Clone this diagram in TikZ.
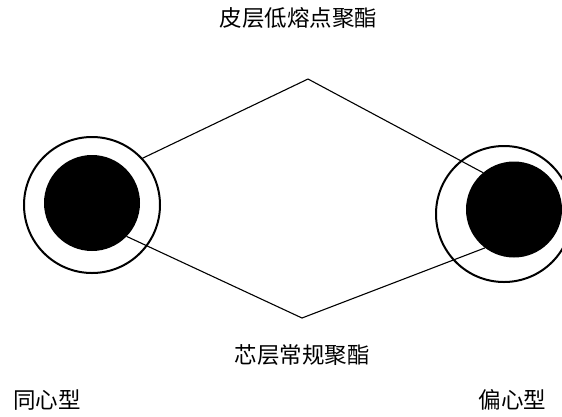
\documentclass[tikz,border=0pt]{standalone}
\usepackage{fontspec}
\newfontfamily\cjk{Noto Sans CJK SC}
\begin{document}
\begin{tikzpicture}[x=1pt,y=-1pt,
  outerring/.style={circle,draw,line width=2pt,inner sep=0pt,outer sep=0pt,minimum size=136pt},
  core/.style={circle,fill=black,inner sep=0pt,outer sep=0pt,minimum size=96pt},
  link/.style={line width=1.1pt},
  lbl/.style={font=\cjk\fontsize{22.5}{26}\selectfont,inner sep=0pt}]
\useasboundingbox (0,0) rectangle (562,416);
\clip (0,0) rectangle (562,416);
\node[outerring] (lo) at (92,205) {};
\node[core] (li) at (92,203) {};
\node[outerring] (ro) at (504,214) {};
\node[core] (ri) at (514,209.5) {};
\coordinate (tp) at (308,79);
\coordinate (bp) at (302,318);
\draw[link] (lo.43) -- (tp) -- (ri.130);
\draw[link] (li.-44) -- (bp) -- (ri.-127);
\node[lbl] (t1) at (298.5,18) {皮层低熔点聚酯};
\node[lbl] (t2) at (302,355.5) {芯层常规聚酯};
\node[lbl] (t3) at (47,400) {同心型};
\node[lbl] (t4) at (512.5,399.5) {偏心型};
\end{tikzpicture}
\end{document}
